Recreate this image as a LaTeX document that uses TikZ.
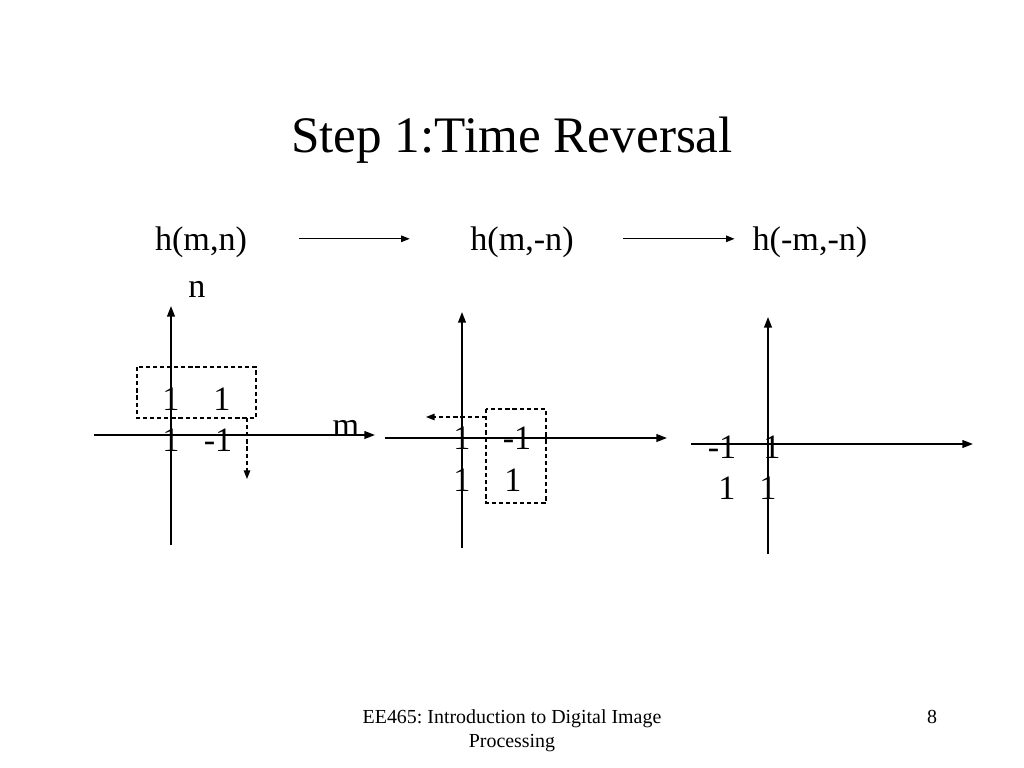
\documentclass[tikz,border=0pt]{standalone}
\usepackage{fontspec}
\setmainfont{Liberation Serif}
\usetikzlibrary{arrows.meta}
\frenchspacing

\begin{document}
\begin{tikzpicture}[x=0.703125pt, y=-0.703125pt,
    axisline/.style={line width=1.1pt, -{Triangle[length=7.5pt,width=5.5pt]}},
    arr/.style={line width=0.9pt, -{Triangle[length=6pt,width=4.5pt]}},
    movearr/.style={line width=0.9pt, dash pattern=on 3pt off 2pt, -{Triangle[length=6pt,width=4.5pt]}},
    win/.style={line width=0.8pt, dash pattern=on 3pt off 2pt},
    lab/.style={inner sep=0pt, anchor=base, font=\fontsize{24}{28}\selectfont}]
    \useasboundingbox (0,0) rectangle (1024,768);
    \node[inner sep=0pt, anchor=base, font=\fontsize{36}{43}\selectfont] (title) at (512,153) {Step 1:Time Reversal};
    % the three signals
    \node[lab] (hmn) at (201,251) {h(m,n)};
    \node[lab] (hmmn) at (522,251) {h(m,-n)};
    \node[lab] (hmmmn) at (810,251) {h(-m,-n)};
    \draw[arr] ([xshift=36.6pt,yshift=2.8pt]hmn.east) -- ([xshift=-42.4pt,yshift=2.8pt]hmmn.west);
    \draw[arr] ([xshift=34.7pt,yshift=2.8pt]hmmn.east) -- ([xshift=-12.5pt,yshift=2.8pt]hmmmn.west);
    % h(m,n)
    \draw[axisline] (94,435) -- (375,435);
    \draw[axisline] (171,545) -- (171,306);
    \node[lab] (n1) at (197,298) {n};
    \node[lab] (m1) at (346,436) {m};
    \node[lab] (a11) at (171,410) {1};
    \node[lab] (a12) at (222,410) {1};
    \node[lab] (a21) at (171,451) {1};
    \node[lab] (a22) at (218,451) {-1};
    \draw[win] (137,367) rectangle (256,418);
    \draw[movearr] (247,418) -- (247,479);
    % h(m,-n)
    \draw[axisline] (385,438) -- (667,438);
    \draw[axisline] (462,548) -- (462,312);
    \node[lab] (b11) at (462,449) {1};
    \node[lab] (b12) at (517,449) {-1};
    \node[lab] (b21) at (462,491) {1};
    \node[lab] (b22) at (513,491) {1};
    \draw[win] (486,409) rectangle (546,503);
    \draw[movearr] (486,417) -- (426,417);
    % h(-m,-n)
    \draw[axisline] (691,444) -- (973,444);
    \draw[axisline] (768,554) -- (768,317);
    \node[lab] (c11) at (722,458) {-1};
    \node[lab] (c12) at (772,458) {1};
    \node[lab] (c21) at (727,499) {1};
    \node[lab] (c22) at (768,499) {1};
    % footer
    \node[inner sep=0pt, anchor=north, align=center, font=\fontsize{14}{17.2}\selectfont] (foot) at (512,709) {EE465: Introduction to Digital Image\\Processing};
    \node[inner sep=0pt, anchor=base, font=\fontsize{14}{17}\selectfont] (page) at (932,723) {8};
\end{tikzpicture}
\end{document}
